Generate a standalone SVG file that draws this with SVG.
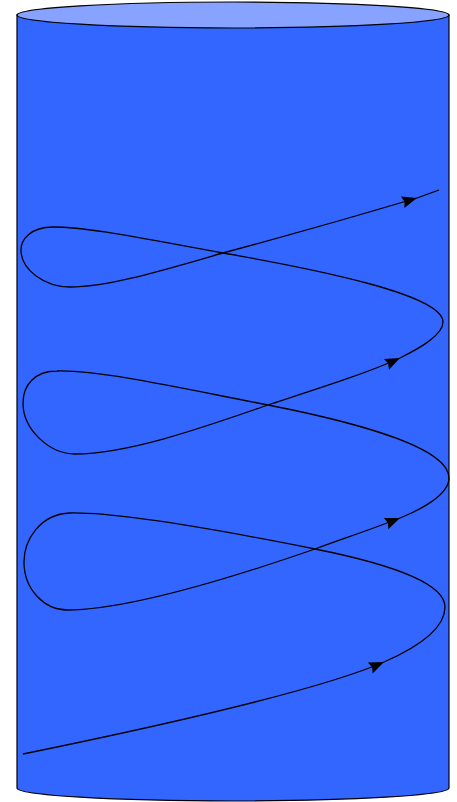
<svg xmlns="http://www.w3.org/2000/svg" width="457" height="802" viewBox="0 0 457 802">
<style>
.cyl{stroke:#000;stroke-width:1.2}
.edge{fill:none;stroke:#000;stroke-width:1.3}
</style>
<defs>
<marker id="arr" markerUnits="userSpaceOnUse" markerWidth="18" markerHeight="14" viewBox="0 0 18 14" refX="16" refY="7" orient="auto">
<path d="M1,1 L16,7 L1,13 L3,7 Z" fill="#000"/>
</marker>
</defs>
<g id="cylinder">
<path class="cyl" d="M17,15 L17,788 A216,13 0 0 0 449,788 L449,15 Z" fill="#3366ff"/>
<ellipse class="cyl" cx="233" cy="15" rx="216" ry="13" fill="#88a3ff"/>
</g>
<g id="connectors">
<path class="edge" marker-end="url(#arr)" d="M23,754 C150,728 320,690 384,662"/>
<path class="edge" marker-end="url(#arr)" d="M384,662 C416,648 445,630 445,607 C445,585 400,566 315,549 C230,532 120,512 70,513 C40,514 24,540 24,562 C24,590 45,610 67,610 C130,610 240,575 315,549 C345,538 375,528 400,518"/>
<path class="edge" marker-end="url(#arr)" d="M400,518 C420,510 449,495 449,478 C449,450 370,425 268,405 C180,388 100,370 57,371 C35,371 23,385 23,403 C23,430 50,454 75,454 C130,454 210,425 268,405 C320,388 370,372 400,358"/>
<path class="edge" marker-end="url(#arr)" d="M400,358 C420,348 443,335 443,322 C443,295 320,270 223,253 C150,240 90,227 53,227 C30,227 21,240 21,250 C21,270 45,287 70,287 C110,287 170,268 223,253 C290,235 370,212 417,198"/>
<path class="edge" d="M417,198 L439,190"/>
</g>
</svg>
